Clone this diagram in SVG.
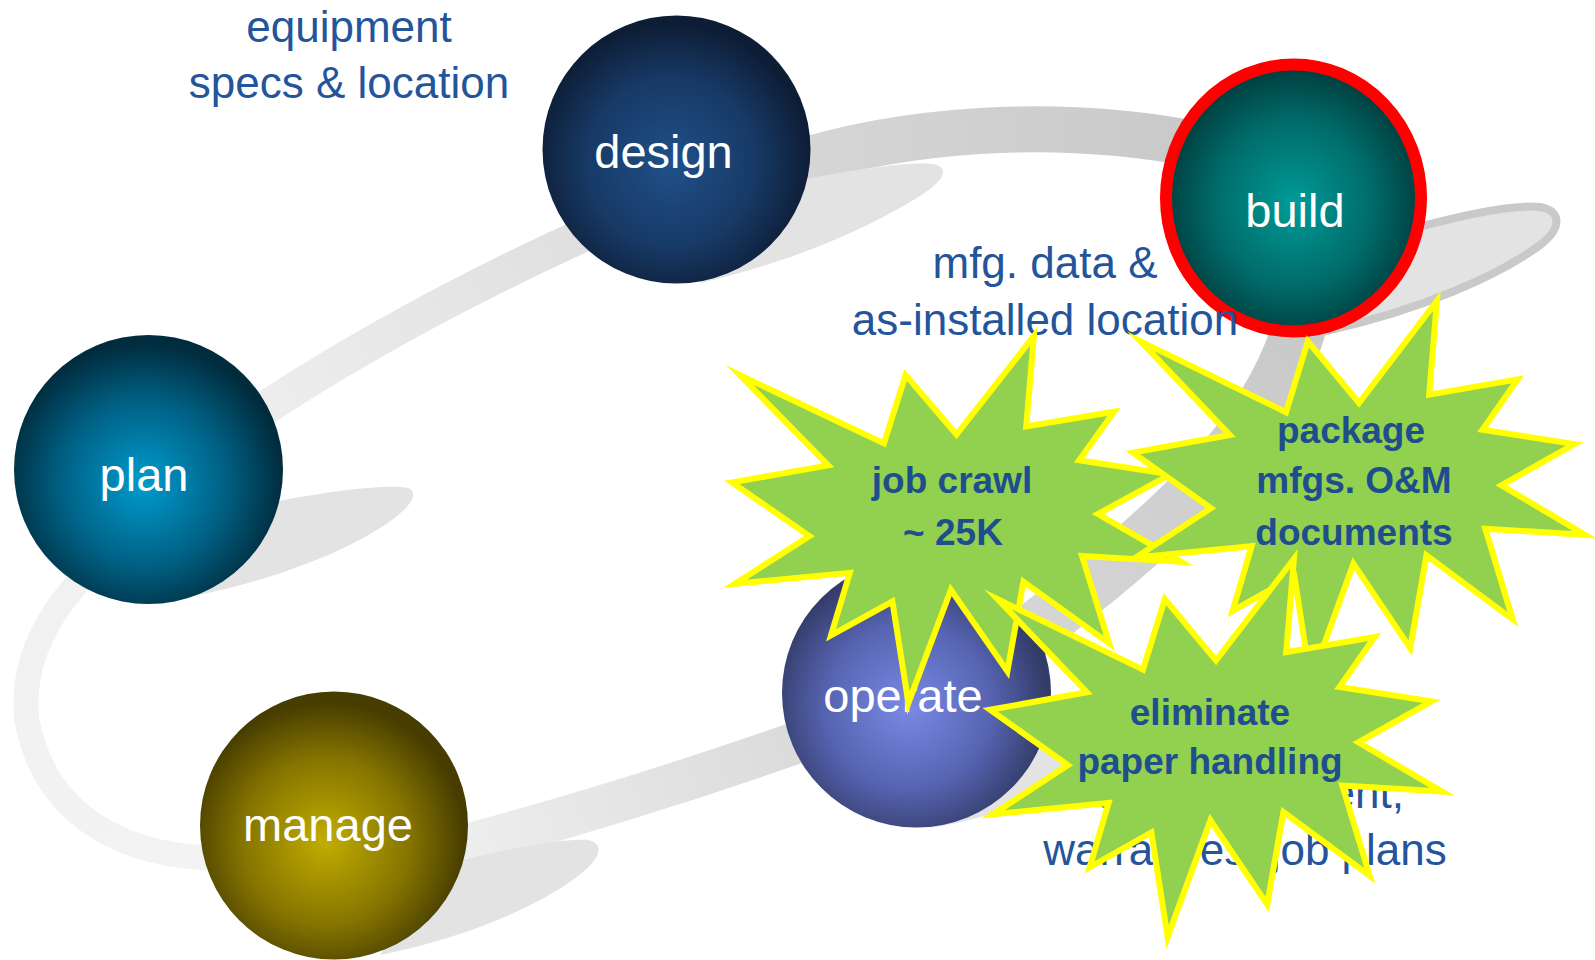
<svg xmlns="http://www.w3.org/2000/svg" width="1595" height="960" viewBox="0 0 1595 960">
<defs>
<style>
.lbl{font-family:"Liberation Sans",Arial,sans-serif;font-size:44px;fill:#24549a;text-anchor:middle}
.nt{font-family:"Liberation Sans",Arial,sans-serif;font-size:47px;fill:#ffffff;text-anchor:middle}
.st{font-family:"Liberation Sans",Arial,sans-serif;font-size:37px;font-weight:bold;fill:#1f4e8c;text-anchor:middle}
.star{fill:#92d050;stroke:#ffff00;stroke-width:6;stroke-linejoin:miter;stroke-miterlimit:10}
.shadow{fill:#e3e3e3}
.rib{fill:none;stroke-linecap:butt}
</style>
<radialGradient id="gPlan" cx="0.48" cy="0.55" r="0.52"><stop offset="0" stop-color="#009ccf"/><stop offset="0.6" stop-color="#005f82"/><stop offset="1" stop-color="#012c3e"/></radialGradient>
<radialGradient id="gDesign" cx="0.48" cy="0.55" r="0.52"><stop offset="0" stop-color="#205089"/><stop offset="0.6" stop-color="#173a66"/><stop offset="1" stop-color="#0e1d36"/></radialGradient>
<radialGradient id="gBuild" cx="0.5" cy="0.52" r="0.52"><stop offset="0" stop-color="#009b98"/><stop offset="0.6" stop-color="#006b69"/><stop offset="1" stop-color="#003b3c"/></radialGradient>
<radialGradient id="gManage" cx="0.47" cy="0.56" r="0.52"><stop offset="0" stop-color="#c2ad00"/><stop offset="0.6" stop-color="#857400"/><stop offset="1" stop-color="#473d00"/></radialGradient>
<radialGradient id="gOperate" cx="0.47" cy="0.55" r="0.52"><stop offset="0" stop-color="#7a8ae4"/><stop offset="0.6" stop-color="#5563b0"/><stop offset="1" stop-color="#333b68"/></radialGradient>
<linearGradient id="rA" gradientUnits="userSpaceOnUse" x1="250" y1="418" x2="590" y2="232"><stop offset="0" stop-color="#eeeeee"/><stop offset="1" stop-color="#dfdfdf"/></linearGradient>
<linearGradient id="rB" gradientUnits="userSpaceOnUse" x1="790" y1="160" x2="1200" y2="140"><stop offset="0" stop-color="#d6d6d6"/><stop offset="1" stop-color="#c9c9c9"/></linearGradient>
<linearGradient id="rC" gradientUnits="userSpaceOnUse" x1="1300" y1="330" x2="1020" y2="640"><stop offset="0" stop-color="#c9c9c9"/><stop offset="1" stop-color="#d6d6d6"/></linearGradient>
<linearGradient id="rD" gradientUnits="userSpaceOnUse" x1="810" y1="735" x2="440" y2="852"><stop offset="0" stop-color="#dadada"/><stop offset="1" stop-color="#efefef"/></linearGradient>
<linearGradient id="rE" gradientUnits="userSpaceOnUse" x1="220" y1="858" x2="90" y2="570"><stop offset="0" stop-color="#f3f3f3"/><stop offset="1" stop-color="#f1f1f1"/></linearGradient>
</defs>
<rect width="1595" height="960" fill="#ffffff"/>

<g id="connectors">
<path class="rib" d="M 220 858 C 130 858, 45 820, 27 720 C 20 660, 50 610, 90 570" stroke="url(#rE)" stroke-width="25"/>
<path class="rib" d="M 250 418 Q 400 318 590 232" stroke="url(#rA)" stroke-width="34"/>
<path class="rib" d="M 790 165 C 900 130, 1050 116, 1200 145" stroke="url(#rB)" stroke-width="46"/>
<path class="rib" d="M 1300 325 C 1270 430, 1180 520, 1020 640" stroke="url(#rC)" stroke-width="54"/>
<path class="rib" d="M 440 852 Q 620 805 810 738" stroke="url(#rD)" stroke-width="42"/>
<path class="shadow" d="M 790 182 C 860 168, 920 160, 937 165 C 952 171, 938 186, 910 202 C 860 232, 790 262, 700 283 Z"/>
<path class="shadow" d="M 260 505 C 330 490, 390 484, 408 488 C 422 494, 406 512, 380 528 C 330 560, 240 592, 140 605 Z"/>
<path class="shadow" d="M 440 866 C 500 850, 560 838, 588 840 C 606 844, 600 860, 578 876 C 540 905, 470 937, 380 955 Z"/>
<path class="shadow" d="M 1000 760 C 1040 745, 1080 738, 1100 742 C 1115 748, 1100 765, 1080 778 C 1040 800, 990 818, 930 828 Z"/>
<path d="M 1400 232 C 1450 218, 1510 204, 1540 207 C 1562 211, 1562 228, 1540 245 C 1500 275, 1420 310, 1330 330 Z" fill="#e3e3e3" stroke="#c9c9c9" stroke-width="8"/>
</g>

<g id="plan">
<circle cx="148.5" cy="469.5" r="134.5" fill="url(#gPlan)"/>
<text class="nt" x="144" y="491">plan</text>
</g>
<g id="design">
<circle cx="676.5" cy="149.5" r="134" fill="url(#gDesign)"/>
<text class="nt" x="663.5" y="168">design</text>
</g>
<g id="build">
<ellipse cx="1293.5" cy="198" rx="127.5" ry="133.5" fill="url(#gBuild)" stroke="#ff0000" stroke-width="12"/>
<text class="nt" x="1295" y="227">build</text>
</g>
<g id="manage">
<circle cx="334" cy="825.5" r="134" fill="url(#gManage)"/>
<text class="nt" x="328" y="841">manage</text>
</g>
<g id="operate">
<circle cx="916.5" cy="693" r="134.5" fill="url(#gOperate)"/>
<text class="nt" x="903" y="712">operate</text>
</g>

<g id="labels">
<text class="lbl" x="349" y="42">equipment</text>
<text class="lbl" x="349" y="98">specs &amp; location</text>
<text class="lbl" x="1045" y="278">mfg. data &amp;</text>
<text class="lbl" x="1045" y="335">as-installed location</text>
<text class="lbl" x="1404" y="808" style="text-anchor:end">O&amp;M, equipment,</text>
<text class="lbl" x="1245" y="865">warranties, job plans</text>
</g>

<g id="star-jobcrawl">
<polygon class="star" points="956.5,434.5 1033.9,336 1026.2,426.5 1114.1,411.7 1079.2,460.3 1170.5,474.3 1098,514 1181,561.8 1082,555.9 1109.2,643.4 1023.4,581.6 1007.4,671.3 950.9,589.8 908.4,703 892.4,601.5 831,635.3 849.8,572.8 734.8,583.8 809.4,536.1 732,482.4 828.2,465.4 739.7,375 884,443.4 905.6,375"/>
<text class="st" x="952" y="493">job crawl</text>
<text class="st" x="953" y="545">~ 25K</text>
</g>
<g id="star-package">
<polygon class="star" points="1359,403 1436.9,301 1429.2,394.7 1517.6,379.4 1482.5,429.7 1574.5,444.1 1501.4,485.3 1585,534.8 1485.3,528.7 1512.7,619.3 1426.4,555.3 1410.2,648.2 1353.4,563.7 1310.6,681 1294.4,575.9 1232.6,610.9 1251.6,546.2 1135.8,557.6 1210.9,508.2 1133,452.6 1229.8,435 1140.7,341.4 1286,412.2 1307.8,341.4"/>
<text class="st" x="1351" y="443">package</text>
<text class="st" x="1354" y="493">mfgs. O&amp;M</text>
<text class="st" x="1354" y="545">documents</text>
</g>
<g id="star-eliminate">
<polygon class="star" points="1216,660.5 1293.9,559 1286.2,652.2 1374.6,637 1339.5,687 1431.5,701.4 1358.4,742.3 1442,791.6 1342.3,785.5 1369.7,875.7 1283.4,812 1267.2,904.4 1210.4,820.4 1167.6,937 1151.4,832.5 1089.6,867.3 1108.6,802.9 992.8,814.3 1067.9,765.1 990,709.8 1086.8,692.3 997.7,599.2 1143,669.6 1164.8,599.2"/>
<text class="st" x="1210" y="725">eliminate</text>
<text class="st" x="1210" y="774">paper handling</text>
</g>
</svg>
